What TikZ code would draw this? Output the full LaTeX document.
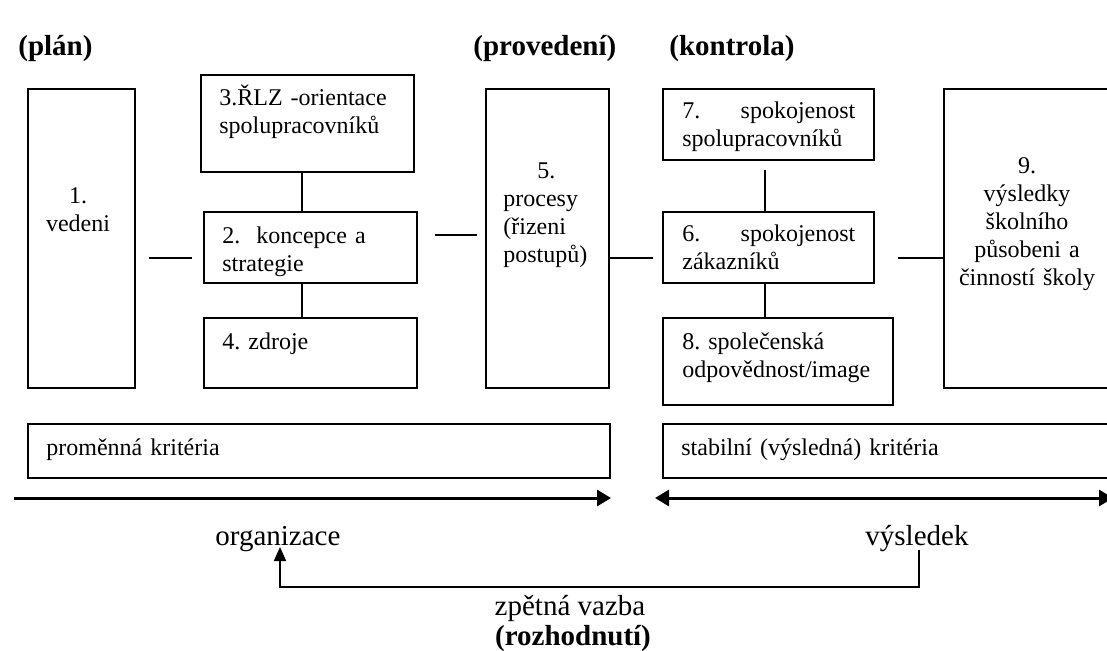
\documentclass[tikz,border=0pt]{standalone}
\usepackage{fontspec}
\setmainfont{Liberation Serif}
\usetikzlibrary{arrows.meta,positioning,calc}
\frenchspacing

\begin{document}
\begin{tikzpicture}[x=0.5pt, y=-0.5pt,
    box/.style={draw, line width=1pt, anchor=north west, inner sep=0pt},
    txt/.style={inner sep=0pt, font=\fontsize{12}{14}\selectfont, align=left, anchor=base west},
    head/.style={inner sep=0pt, font=\fontsize{14.5}{17}\selectfont\bfseries, anchor=base west},
    big/.style={inner sep=0pt, font=\fontsize{14.5}{17}\selectfont},
    link/.style={line width=0.9pt},
    timeline/.style={line width=1.5pt},
    fb/.style={line width=0.9pt, -{Triangle[length=7pt, width=6pt]}}
  ]
  \clip (0,0) rectangle (1107,650);

  % headings
  \node[head] (plan) at (18,55) {(plán)};
  \node[head] (proved) at (473,55) {(provedení)};
  \node[head] (kontr) at (669,55) {(kontrola)};

  % boxes
  \node[box, minimum width=53.5pt, minimum height=149.5pt] (vedeni) at (27,88) {};
  \node[box, minimum width=106.5pt, minimum height=48.5pt] (orient) at (200,74) {};
  \node[box, minimum width=106.5pt, minimum height=35.5pt] (koncepce) at (203,211) {};
  \node[box, minimum width=106.5pt, minimum height=35pt] (zdroje) at (203,317) {};
  \node[box, minimum width=61.5pt, minimum height=149.5pt] (procesy) at (485,88) {};
  \node[box, minimum width=105.5pt, minimum height=35.5pt] (spokspol) at (662,88) {};
  \node[box, minimum width=105.5pt, minimum height=35.5pt] (zakaznici) at (662,211) {};
  \node[box, minimum width=115pt, minimum height=43.5pt] (image) at (662,317) {};
  \node[box, minimum width=100pt, minimum height=149.5pt] (vysledky) at (943,88) {};
  \node[box, minimum width=291pt, minimum height=27pt] (promenna) at (27,423) {};
  \node[box, minimum width=250pt, minimum height=27pt] (stabilni) at (662,423) {};

  % texts in the boxes
  \node[txt, align=center, anchor=base, text width=40pt] (vedeni-t) at (78,203) {1.\\vedeni};
  \node[txt, text width=90pt] (orient-t) at (219,105) {3.ŘLZ -orientace\\spolupracovníků};
  \node[txt, text width=90pt] (koncepce-t) at (222,243) {2.\ \ koncepce a\\strategie};
  \node[txt, text width=90pt] (zdroje-t) at (222,349) {4. zdroje};
  \node[txt, text width=43pt] (procesy-t) at (503,178) {\makebox[\linewidth]{5.}\\procesy\\(řizeni\\postupů)};
  \node[txt, text width=86.5pt] (spokspol-t) at (682,118) {7.\hfill spokojenost\\spolupracovníků};
  \node[txt, text width=86.5pt] (zakaznici-t) at (682,241) {6.\hfill spokojenost\\zákazníků};
  \node[txt, text width=110pt] (image-t) at (682,349) {8. společenská\\odpovědnost/image};
  \node[txt, align=center, anchor=base, text width=75pt] (vysledky-t) at (1027,173) {9.\\výsledky\\školního\\působeni a\\činností školy};
  \node[txt, text width=200pt] (promenna-t) at (46,455) {proměnná kritéria};
  \node[txt, text width=200pt] (stabilni-t) at (681,455) {stabilní (výsledná) kritéria};

  % links between the boxes
  \draw[link] ([shift={(13,19.5)}]vedeni.east) -- ([shift={(-11,10.5)}]koncepce.west);
  \draw[link] ([shift={(17,-12.5)}]koncepce.east) -- ([shift={(-8,-3.5)}]procesy.west);
  \draw[link] ([shift={(0,19.5)}]procesy.east) -- ([shift={(-9,10.5)}]zakaznici.west);
  \draw[link] ([shift={(23,10.5)}]zakaznici.east) -- ([shift={(0,19.5)}]vysledky.west);
  \draw[link] ([shift={(-5.5,0)}]orient.south) -- ([shift={(-8.5,0)}]koncepce.north);
  \draw[link] ([shift={(-8.5,0)}]koncepce.south) -- ([shift={(-8.5,0)}]zdroje.north);
  \draw[link] ([shift={(-3.5,9)}]spokspol.south) -- ([shift={(-3.5,0)}]zakaznici.north);
  \draw[link] ([shift={(-3.5,0)}]zakaznici.south) -- ([shift={(-13,0)}]image.north);

  % time lines
  \coordinate (tl-start) at (14,498);
  \coordinate (tr-start) at (655,498);
  \coordinate (tr-end) at (1113,498);
  \draw[timeline, -{Triangle[length=7pt, width=8pt]}] (tl-start) -- (tl-start -| promenna.east);
  \draw[timeline, {Triangle[length=7pt, width=8pt]}-{Triangle[length=7pt, width=8pt]}] (tr-start) -- (tr-end);

  % bottom labels
  \node[big, anchor=base west] (organ) at (215,545) {organizace};
  \node[big, anchor=base west] (vysl) at (865,545) {výsledek};
  \node[big, anchor=base] (zpet) at (570,615) {zpětná vazba};
  \node[big, anchor=base, font=\fontsize{14.5}{17}\selectfont\bfseries] (rozh) at (573,645) {(rozhodnutí)};

  % feedback
  \draw[fb] ([xshift=27pt, yshift=-2.5pt]vysl.base west) -- ++(0,37) -| ([xshift=32.5pt, yshift=-1pt]organ.base west);
\end{tikzpicture}
\end{document}
